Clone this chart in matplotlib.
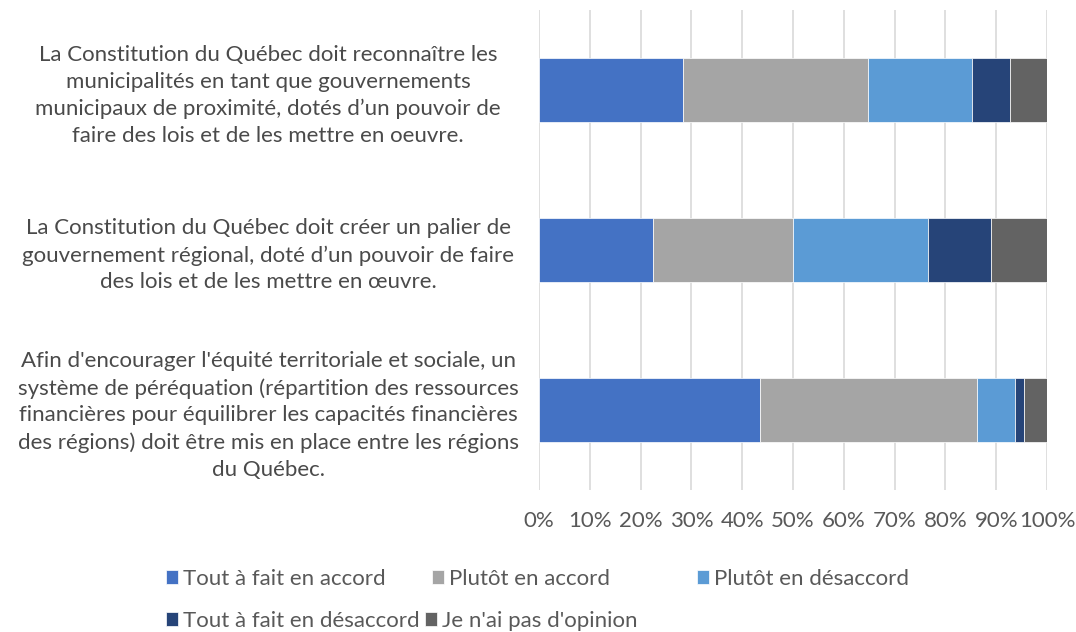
import matplotlib.pyplot as plt
import numpy as np

plt.rcParams['font.family'] = ['Lato', 'DejaVu Sans']

# survey statements (top to bottom)
questions = [
    "La Constitution du Québec doit reconnaître les\nmunicipalités en tant que gouvernements\nmunicipaux de proximité, dotés d\u2019un pouvoir de\nfaire des lois et de les mettre en oeuvre.",
    "La Constitution du Québec doit créer un palier de\ngouvernement régional, doté d\u2019un pouvoir de faire\ndes lois et de les mettre en \u0153uvre.",
    "Afin d'encourager l'équité territoriale et sociale, un\nsystème de péréquation (répartition des ressources\nfinancières pour équilibrer les capacités financières\ndes régions) doit être mis en place entre les régions\ndu Québec.",
]

answers = ["Tout à fait en accord", "Plutôt en accord", "Plutôt en désaccord",
           "Tout à fait en désaccord", "Je n'ai pas d'opinion"]

# percentages per answer, one value per question
tout_accord = [28.4, 22.5, 43.6]
plutot_accord = [36.4, 27.5, 42.7]
plutot_desaccord = [20.5, 26.6, 7.4]
tout_desaccord = [7.5, 12.3, 1.8]
sans_opinion = [7.2, 11.1, 4.5]

colors = ['#4472C4', '#A5A5A5', '#5B9BD5', '#264478', '#636363']
series = [tout_accord, plutot_accord, plutot_desaccord, tout_desaccord, sans_opinion]

fig = plt.figure(figsize=(10.76, 6.32), dpi=100)
ax = fig.add_axes([539 / 1076, 1 - 490 / 632, 508 / 1076, 480 / 632])

y = np.arange(len(questions))
left = np.zeros(len(questions))
handles = []
for vals, col, name in zip(series, colors, answers):
    b = ax.barh(y, vals, left=left, height=0.4, color=col, label=name,
                edgecolor='white', linewidth=0.5, zorder=3)
    handles.append(b)
    left += np.array(vals)

ax.set_ylim(2.5, -0.5)
ax.set_xlim(0, 100)
ax.set_xticks(np.arange(0, 101, 10))
ax.set_xticklabels([f"{v}%" for v in range(0, 101, 10)])
ax.set_yticks(y)
ax.set_yticklabels(questions, ha='center', multialignment='center', linespacing=1.42)
ax.tick_params(axis='y', length=0, pad=195, labelsize=16, labelcolor='#4a4a4a')
ax.tick_params(axis='x', length=0, pad=15, labelsize=16, labelcolor='#595959')
ax.grid(axis='x', color='#D9D9D9', linewidth=1.2, zorder=0)
for s in ax.spines.values():
    s.set_visible(False)

# Excel-like legend: each entry placed on its own
spots = [(166, 579), (432, 579), (697, 579), (166, 621), (425, 621)]
for h, name, (px, py) in zip(handles, answers, spots):
    fig.legend(handles=[h], labels=[name], loc='center left',
               bbox_to_anchor=(px / 1076, 1 - py / 632), frameon=False,
               fontsize=16, labelcolor='#595959', handlelength=0.55,
               handleheight=0.55, handletextpad=0.22, borderpad=0,
               borderaxespad=0)

fig.savefig('out.png', dpi=100)
